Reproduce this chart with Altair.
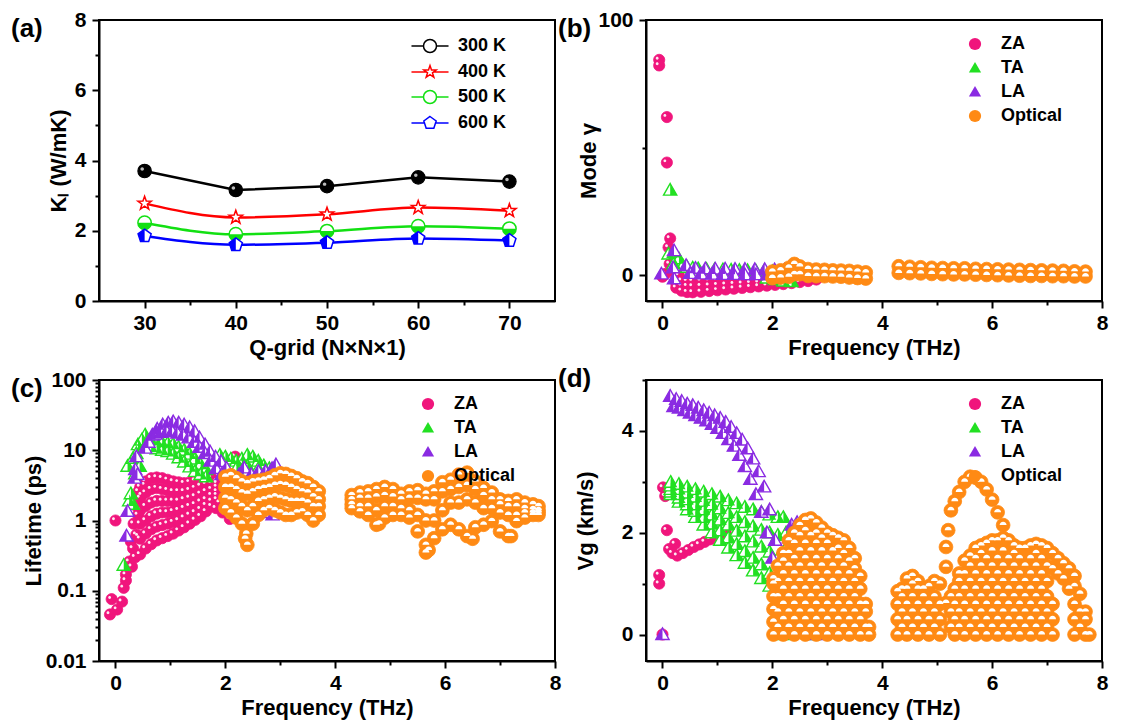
import altair as alt
import pandas as pd

FONT = "Liberation Sans"

# ---------------- (a) thermal conductivity vs q-grid ----------------
Q_GRID = [30, 40, 50, 60, 70]
K_300 = [3.70, 3.16, 3.27, 3.52, 3.40]
K_400 = [2.78, 2.38, 2.47, 2.66, 2.57]
K_500 = [2.23, 1.90, 1.99, 2.13, 2.06]
K_600 = [1.85, 1.60, 1.66, 1.78, 1.72]
A_SERIES = ["300 K", "400 K", "500 K", "600 K"]
A_COLORS = ["#000000", "#ff0000", "#12e012", "#0000ff"]

SERIES = ["ZA", "TA", "LA", "Optical"]
COLORS = {"ZA": "#f0157c", "TA": "#22e022", "LA": "#8a2be2", "Optical": "#ff8a14"}

# ---------------- (b) mode Gruneisen parameter ----------------
B_ZA_F = [-0.06, -0.06, 0.08, 0.08, 0.14, 0.11, 0.13, 0.05, 0.0, 0.2, 0.3]
B_ZA_V = [84.4, 82.2, 62.0, 44.2, 14.5, 11.0, 4.5, 0.6, -0.5, 1.5, 0.0]
B_ZA_GRID = [0.25, 0.35, 0.45, 0.55, 0.7, 0.85, 1.0, 1.15, 1.3, 1.45, 1.6, 1.75, 1.9, 2.05, 2.2, 2.35, 2.5, 2.65, 2.8]
B_ZA_ROW1 = [-4.8, -6.0, -6.5, -6.6, -6.4, -6.1, -5.8, -5.5, -5.2, -4.9, -4.6, -4.3, -4.0, -3.7, -3.4, -3.0, -2.6, -2.2, -1.6]
B_ZA_ROW2 = [-3.0, -4.0, -4.2, -4.3, -4.2, -4.0, -3.8, -3.6, -3.4, -3.2, -3.0, -2.8, -2.6, -2.4, -2.2, -2.0, -1.7, -1.4, -1.0]
B_ZA_ROW3 = [-1.5, -2.0, -2.2, -2.2, -2.1, -2.0, -1.9, -1.8, -1.7, -1.6, -1.5, -1.4, -1.3, -1.2, -1.1, -1.0, -0.9, -0.7, -0.5]
B_TA_F = [0.14, 0.11, 0.21, 0.30, 0.37, 0.20, 0.45, 0.55, 0.65, 0.8, 0.95, 1.1, 1.25, 1.4, 1.55, 1.7, 1.85, 2.0, 2.15, 2.3, 1.9, 2.05, 2.2, 2.35]
B_TA_V = [33.4, 8.4, 9.0, 6.5, 3.9, 4.5, 3.2, 2.9, 2.6, 2.4, 2.3, 2.2, 2.1, 2.0, 1.9, 1.8, 1.7, 1.5, 1.2, 0.8, -1.0, -1.6, -2.2, -2.4]
B_LA_F = [-0.02, 0.21, 0.21, 0.19, 0.43, 0.6, 0.78, 0.96, 1.14, 1.32, 1.5, 1.68, 1.86, 2.04, 2.22, 2.4, 2.58, 2.76, 2.94,
          0.5, 0.7, 0.9, 1.1, 1.3, 1.5, 1.7, 1.9, 2.1]
B_LA_V = [0.6, 9.7, -1.3, 3.0, 3.9, 2.8, 2.6, 2.5, 2.5, 2.4, 2.4, 2.3, 2.3, 2.2, 2.2, 2.1, 2.0, 1.9, 1.8,
          0.8, 0.6, 0.5, 0.4, 0.4, 0.3, 0.3, 0.2, 0.2]
B_OPT_GRID1 = [2.0, 2.15, 2.3, 2.4, 2.5, 2.65, 2.8, 2.95, 3.1, 3.25, 3.4, 3.55, 3.7]
B_OPT_TOP1 = [1.5, 2.0, 3.0, 4.5, 3.5, 2.5, 2.3, 2.2, 2.0, 1.9, 1.8, 1.5, 1.2]
B_OPT_LOW1 = [-1.0, -0.8, -0.5, 0.5, 0.5, -0.2, -0.3, -0.3, -0.4, -0.5, -0.8, -1.0, -1.2]
B_OPT_GRID2 = [4.3, 4.5, 4.7, 4.9, 5.1, 5.3, 5.5, 5.7, 5.9, 6.1, 6.3, 6.5, 6.7, 6.9, 7.1, 7.3, 7.5, 7.7]
B_OPT_TOP2 = [3.6, 3.4, 3.2, 3.0, 2.9, 2.8, 2.8, 2.6, 2.5, 2.4, 2.3, 2.2, 2.1, 2.0, 1.9, 1.8, 1.6, 1.5]
B_OPT_LOW2 = [1.0, 0.9, 0.8, 0.6, 0.5, 0.4, 0.4, 0.3, 0.2, 0.1, 0.0, -0.1, -0.2, -0.2, -0.3, -0.3, -0.4, -0.4]

# ---------------- (c) phonon lifetime ----------------
C_ZA_GRID = [0.45, 0.55, 0.65, 0.75, 0.85, 0.95, 1.05, 1.15, 1.25, 1.35, 1.45, 1.55, 1.65, 1.75, 1.85]
C_ZA_R1 = [0.33, 0.40, 0.46, 0.52, 0.56, 0.60, 0.65, 0.72, 0.80, 0.90, 1.02, 1.15, 1.35, 1.60, 2.00]
C_ZA_R2 = [0.55, 0.65, 0.75, 0.82, 0.86, 0.90, 0.95, 1.00, 1.10, 1.20, 1.30, 1.45, 1.65, 1.90, 2.30]
C_ZA_R3 = [0.90, 1.00, 1.15, 1.25, 1.30, 1.30, 1.35, 1.40, 1.50, 1.60, 1.70, 1.85, 2.00, 2.30, 2.60]
C_ZA_R4 = [1.40, 1.60, 1.80, 1.90, 1.90, 1.90, 1.90, 1.90, 2.00, 2.10, 2.20, 2.40, 2.60, 2.80, 3.00]
C_ZA_R5 = [2.10, 2.50, 2.80, 2.90, 2.80, 2.70, 2.60, 2.60, 2.60, 2.70, 2.90, 3.10, 3.30, 3.40, 3.40]
C_ZA_R6 = [3.00, 3.60, 4.00, 4.10, 4.00, 3.80, 3.60, 3.50, 3.40, 3.50, 3.70, 3.90, 4.00, 4.00, 3.60]
C_ZA_F = [0.0, -0.1, -0.07, 0.03, 0.12, 0.15, 0.19, 0.19, 0.25, 0.28, 0.32, 0.33, 0.36, 0.38, 0.38, 0.41, 0.42,
          0.48, 0.54, 0.30, 0.42, 1.83, 1.90, 1.95, 2.00, 2.08, 2.18]
C_ZA_V = [1.0, 0.046, 0.076, 0.054, 0.07, 0.11, 0.17, 0.14, 0.26, 0.5, 0.4, 0.9, 0.3, 0.63, 1.6, 1.2, 2.6,
          2.3, 3.2, 0.22, 0.6, 1.5, 1.8, 1.3, 1.4, 1.05, 8.1]
C_TA_F = [0.15, 0.25, 0.28, 0.32, 0.22, 0.32, 0.41, 0.44, 0.54, 0.38, 0.48, 0.36]
C_TA_V = [0.23, 1.9, 2.4, 1.7, 5.9, 7.7, 12.0, 5.9, 16.5, 9.0, 14.0, 4.6]
C_TA_ARC_F = [0.65, 0.75, 0.85, 0.95, 1.05, 1.15, 1.25, 1.35, 1.45, 1.55, 1.65]
C_TA_ARC_HI = [14.0, 13.0, 12.8, 12.6, 12.2, 11.0, 10.0, 8.8, 7.5, 6.3, 5.3]
C_TA_ARC_LO = [11.0, 10.5, 10.0, 9.6, 8.8, 7.8, 6.8, 5.8, 5.0, 4.5, 4.2]
C_TA_R_F = [1.9, 2.0, 2.1, 2.2, 2.3, 2.4, 2.5, 2.6, 2.7, 2.8, 2.2, 2.4, 2.6]
C_TA_R_V = [8.5, 8.0, 7.5, 7.0, 7.5, 8.5, 8.0, 7.0, 6.0, 5.5, 5.5, 6.0, 5.5]
C_LA_F = [0.2, 0.22, 0.35, 0.36, 0.38, 0.40, 0.54, 0.60]
C_LA_V = [0.6, 1.35, 4.0, 5.3, 8.1, 4.5, 10.7, 13.0]
C_LA_HI_F = [0.67, 0.76, 0.86, 0.96, 1.05, 1.15, 1.25, 1.35, 1.44, 1.53, 1.63, 1.72, 1.82, 1.92, 2.02]
C_LA_HI_V = [16.5, 20.0, 23.0, 24.5, 25.5, 24.5, 23.0, 21.0, 18.5, 15.0, 12.0, 9.5, 8.0, 6.9, 5.6]
C_LA_LO_F = [0.73, 0.83, 0.93, 1.03, 1.13, 1.23, 1.33, 1.43, 1.53, 1.63, 1.73, 1.83, 1.93]
C_LA_LO_V = [17.0, 18.0, 18.5, 18.5, 17.5, 16.5, 15.0, 13.0, 11.0, 9.0, 7.0, 5.5, 4.5]
C_LA_R_F = [2.15, 2.25, 2.34, 2.47, 2.60, 2.73, 2.85, 2.92, 2.86, 2.70]
C_LA_R_V = [4.0, 4.5, 5.6, 4.5, 5.0, 5.0, 5.5, 6.2, 1.2, 1.3]
C_OPT_GRID1 = [2.0, 2.1, 2.2, 2.3, 2.4, 2.5, 2.6, 2.7, 2.8, 2.9, 3.0, 3.1, 3.2, 3.3, 3.4, 3.5, 3.6, 3.7]
C_OPT_L_R1 = [4.2, 4.4, 4.0, 3.6, 3.4, 3.6, 3.7, 3.8, 4.0, 4.4, 4.7, 4.6, 4.3, 4.0, 3.6, 3.4, 3.0, 2.6]
C_OPT_L_R2 = [3.0, 3.0, 2.8, 2.5, 2.4, 2.6, 2.8, 2.9, 3.0, 3.2, 3.3, 3.2, 3.0, 2.8, 2.6, 2.5, 2.2, 2.0]
C_OPT_L_R3 = [2.1, 2.0, 1.8, 1.6, 1.4, 1.6, 1.9, 2.0, 2.1, 2.2, 2.1, 2.0, 1.9, 1.9, 1.9, 1.8, 1.6, 1.6]
C_OPT_L_R4 = [1.5, 1.3, 1.1, 0.9, 0.45, 0.9, 1.2, 1.4, 1.5, 1.4, 1.3, 1.2, 1.2, 1.3, 1.35, 1.2, 1.0, 1.2]
C_OPT_GRID2 = [4.3, 4.45, 4.6, 4.75, 4.9, 5.05, 5.2, 5.35, 5.5, 5.65, 5.8, 5.95, 6.1, 6.25, 6.4, 6.55, 6.7, 6.85,
               7.0, 7.15, 7.3, 7.45, 7.6, 7.7]
C_OPT_R_R1 = [2.3, 2.5, 2.6, 2.8, 3.0, 2.8, 2.4, 2.6, 2.7, 2.4, 2.6, 3.5, 3.8, 4.5, 4.8, 3.6, 2.9, 2.5, 2.0, 1.9, 2.0, 1.8, 1.7, 1.6]
C_OPT_R_R2 = [2.0, 2.1, 2.1, 2.2, 2.3, 2.2, 2.0, 2.1, 2.1, 2.0, 2.0, 2.6, 2.8, 3.0, 3.2, 2.8, 2.3, 2.0, 1.7, 1.6, 1.6, 1.5, 1.45, 1.4]
C_OPT_R_R3 = [1.7, 1.6, 1.6, 1.4, 1.6, 1.6, 1.5, 1.4, 1.2, 1.0, 1.0, 1.4, 1.8, 1.8, 2.0, 1.8, 1.5, 1.5, 1.3, 1.2, 1.2, 1.3, 1.3, 1.3]
C_OPT_R_R4 = [1.5, 1.35, 1.2, 0.87, 1.1, 1.2, 1.2, 1.1, 0.7, 0.35, 0.56, 0.75, 0.87, 0.75, 0.6, 0.8, 0.87, 0.98, 0.7, 0.6, 0.98, 1.1, 1.2, 1.2]
C_OPT_X_F = [2.38, 2.36, 4.8, 5.65, 5.7, 6.5, 7.2]
C_OPT_X_V = [0.65, 0.55, 0.9, 0.45, 0.38, 0.55, 0.6]

# ---------------- (d) group velocity ----------------
D_ZA_F = [0.01, 0.05, 0.08, -0.06, -0.06, 0.0, 0.12, 0.18, 0.23, 0.27, 0.37, 0.47, 0.57, 0.67, 0.77, 0.87, 0.97,
          1.05, 1.15, 2.18, 2.55, 2.60, 2.66]
D_ZA_V = [2.89, 2.72, 2.05, 1.17, 1.0, 0.0, 1.68, 1.6, 1.78, 1.55, 1.6, 1.66, 1.72, 1.77, 1.82, 1.87, 1.92,
          1.97, 2.0, 0.0, 0.5, 0.2, 0.1]
D_TA_GRID = [0.15, 0.3, 0.45, 0.6, 0.75, 0.9, 1.05, 1.2, 1.35, 1.5, 1.65, 1.8, 1.95, 2.1]
D_TA_R1 = [2.99, 2.95, 2.9, 2.85, 2.8, 2.75, 2.7, 2.63, 2.57, 2.5, 2.45, 2.4, 2.35, 2.3]
D_TA_R2 = [2.92, 2.85, 2.78, 2.7, 2.62, 2.55, 2.47, 2.38, 2.3, 2.2, 2.12, 2.05, 2.0, 1.95]
D_TA_R3 = [2.85, 2.75, 2.65, 2.55, 2.45, 2.35, 2.25, 2.15, 2.03, 1.92, 1.82, 1.72, 1.62, 1.5]
D_TA_R4 = [2.8, 2.68, 2.55, 2.42, 2.3, 2.17, 2.04, 1.9, 1.77, 1.63, 1.5, 1.37, 1.2, 1.0]
D_TA_R5 = [2.75, 2.6, 2.45, 2.3, 2.15, 2.0, 1.85, 1.7, 1.55, 1.4, 1.25, 1.1, 0.95, 0.7]
D_TA_F = [2.2, 2.25, 2.3, 2.2, 2.25, 2.7, 2.75]
D_TA_V = [2.3, 2.0, 1.8, 0.0, 0.3, 0.1, 0.0]
D_LA_A_F = [0.14, 0.25, 0.35, 0.45, 0.55, 0.65, 0.75, 0.85, 0.95, 1.05, 1.15, 1.25, 1.35, 1.45, 1.55, 1.65, 1.75,
            1.85, 1.95, 2.05, 2.15]
D_LA_A_V = [4.68, 4.62, 4.58, 4.53, 4.5, 4.45, 4.4, 4.35, 4.3, 4.25, 4.17, 4.07, 3.95, 3.82, 3.65, 3.45, 3.2,
            2.9, 2.45, 1.85, 1.25]
D_LA_B_F = [0.2, 0.3, 0.4, 0.5, 0.6, 0.7, 0.8, 0.9, 1.0, 1.1, 1.2, 1.3, 1.4, 1.5, 1.6, 1.7, 1.8, 1.9, 2.0, 2.1]
D_LA_B_V = [4.48, 4.45, 4.4, 4.35, 4.3, 4.25, 4.2, 4.13, 4.05, 3.95, 3.83, 3.7, 3.52, 3.3, 3.05, 2.75, 2.4, 2.0, 1.5, 1.0]
D_LA_F = [0.0, 2.3, 2.35, 2.45, 2.55, 2.8, 2.85]
D_LA_V = [0.0, 1.9, 2.15, 2.2, 2.22, 0.0, 0.1]
D_OPT_LEFT = [
    (2.02, [0.0, 0.25, 0.5, 0.75, 1.0, 1.1]),
    (2.10, [0.15, 0.45, 0.75, 1.05, 1.35]),
    (2.20, [0.0, 0.3, 0.6, 0.9, 1.2, 1.45, 1.6]),
    (2.30, [0.15, 0.45, 0.75, 1.05, 1.35, 1.6, 1.85]),
    (2.40, [0.0, 0.3, 0.6, 0.9, 1.2, 1.5, 1.8, 2.0]),
    (2.50, [0.15, 0.45, 0.75, 1.05, 1.35, 1.65, 1.95, 2.15]),
    (2.60, [0.0, 0.3, 0.6, 0.9, 1.2, 1.5, 1.8, 2.05, 2.25]),
    (2.70, [0.15, 0.45, 0.75, 1.05, 1.35, 1.65, 1.95, 2.28]),
    (2.80, [0.0, 0.3, 0.6, 0.9, 1.2, 1.5, 1.8, 2.0, 2.2]),
    (2.90, [0.15, 0.45, 0.75, 1.05, 1.35, 1.65, 1.9, 2.1]),
    (3.00, [0.0, 0.3, 0.6, 0.9, 1.2, 1.5, 1.8, 2.0]),
    (3.10, [0.15, 0.45, 0.75, 1.05, 1.35, 1.65, 1.95]),
    (3.20, [0.0, 0.3, 0.6, 0.9, 1.2, 1.5, 1.7, 1.9]),
    (3.30, [0.15, 0.45, 0.75, 1.05, 1.35, 1.6, 1.85]),
    (3.40, [0.0, 0.3, 0.6, 0.9, 1.2, 1.45, 1.7]),
    (3.50, [0.15, 0.45, 0.75, 1.05, 1.3, 1.5]),
    (3.60, [0.0, 0.3, 0.6, 0.9, 1.15]),
    (3.70, [0.15, 0.45, 0.6]),
    (3.76, [0.0, 0.15]),
]
D_OPT_RIGHT = [
    (4.28, [0.0, 0.3, 0.6, 0.85]),
    (4.36, [0.15, 0.45, 0.75, 0.9]),
    (4.45, [0.0, 0.3, 0.6, 0.9, 1.1]),
    (4.55, [0.15, 0.45, 0.75, 1.0, 1.15]),
    (4.65, [0.0, 0.3, 0.6, 0.9, 1.05]),
    (4.75, [0.15, 0.45, 0.75, 0.9]),
    (4.85, [0.0, 0.3, 0.6, 0.95]),
    (4.95, [0.15, 0.45, 0.75, 1.05]),
    (5.05, [0.0, 0.3, 0.6, 1.0]),
    (5.16, [0.62, 1.33, 1.72]),
    (5.20, [2.05]),
    (5.25, [0.15, 0.45, 0.75, 2.44]),
    (5.32, [0.0, 0.3, 0.6, 0.9, 2.62]),
    (5.40, [0.15, 0.45, 0.75, 1.05, 1.2, 2.8]),
    (5.50, [0.0, 0.3, 0.6, 0.9, 1.2, 1.45, 3.0]),
    (5.60, [0.15, 0.45, 0.75, 1.05, 1.35, 1.55, 3.1]),
    (5.70, [0.0, 0.3, 0.6, 0.9, 1.2, 1.5, 1.7, 3.08]),
    (5.80, [0.15, 0.45, 0.75, 1.05, 1.35, 1.6, 1.75, 3.0]),
    (5.90, [0.0, 0.3, 0.6, 0.9, 1.2, 1.5, 1.8, 2.85]),
    (6.00, [0.15, 0.45, 0.75, 1.05, 1.35, 1.65, 1.85, 2.65]),
    (6.10, [0.0, 0.3, 0.6, 0.9, 1.2, 1.5, 1.85, 2.4]),
    (6.20, [0.15, 0.45, 0.75, 1.05, 1.35, 1.65, 1.9, 2.15]),
    (6.30, [0.0, 0.3, 0.6, 0.9, 1.2, 1.5, 1.85]),
    (6.40, [0.15, 0.45, 0.75, 1.05, 1.35, 1.6, 1.75]),
    (6.50, [0.0, 0.3, 0.6, 0.9, 1.2, 1.5, 1.7]),
    (6.60, [0.15, 0.45, 0.75, 1.05, 1.35, 1.7]),
    (6.70, [0.0, 0.3, 0.6, 0.9, 1.2, 1.5, 1.75]),
    (6.80, [0.15, 0.45, 0.75, 1.05, 1.35, 1.6, 1.78]),
    (6.90, [0.0, 0.3, 0.6, 0.9, 1.2, 1.5, 1.75]),
    (7.00, [0.15, 0.45, 0.75, 1.05, 1.35, 1.7]),
    (7.10, [0.0, 0.3, 0.6, 1.3, 1.6]),
    (7.20, [1.2, 1.5]),
    (7.30, [1.1, 1.4]),
    (7.40, [0.9, 1.3]),
    (7.50, [0.0, 0.3, 0.6, 0.95, 1.15]),
    (7.60, [0.15, 0.45, 0.8]),
    (7.70, [0.0, 0.3, 0.45]),
    (7.77, [0.0]),
]

# ---------------- marker paths (unit square -1..1) ----------------
P_TRI = "M0,-1 L1,0.75 L-1,0.75 Z"
P_TRI_R = "M0,-1 L1,0.75 L0,0.75 Z"
P_TRI_L = "M0,-1 L0,0.75 L-1,0.75 Z"
P_HIGHLIGHT = "M-0.62,-0.3 A0.26,0.26 0 1 1 -0.1,-0.3 A0.26,0.26 0 1 1 -0.62,-0.3 Z"
P_CAP = "M-0.5,0.0 A0.5,0.5 0 0 1 0.5,0.0 Z"
P_STAR = ("M0,-1 L0.235,-0.324 L0.951,-0.309 L0.38,0.124 L0.588,0.809 L0,0.4 L-0.588,0.809 "
          "L-0.38,0.124 L-0.951,-0.309 L-0.235,-0.324 Z")
P_PENT = "M0,-1 L0.951,-0.309 L0.588,0.809 L-0.588,0.809 L-0.951,-0.309 Z"
P_PENT_L = "M0,-1 L0,0.809 L-0.588,0.809 L-0.951,-0.309 Z"
P_HALF_BOTTOM = "M-1,0 A1,1 0 0 0 1,0 Z"
L_CIRC = "M-2.85,0 L-1,0 M1,0 L2.85,0 M-1,0 A1,1 0 1 1 1,0 A1,1 0 1 1 -1,0 Z"
L_STAR = "M-2.85,0 L-0.55,0 M0.55,0 L2.85,0 " + P_STAR
L_PENT = "M-2.85,0 L-0.85,0 M0.85,0 L2.85,0 " + P_PENT


def grid_rows(grid, *rows):
    f, v = [], []
    for row in rows:
        for a, b in zip(grid, row):
            f.append(a)
            v.append(b)
    return f, v


def cols(columns):
    f, v = [], []
    for a, ys in columns:
        for b in ys:
            f.append(a)
            v.append(b)
    return f, v


def join(*pairs):
    f, v = [], []
    for pf, pv in pairs:
        n = min(len(pf), len(pv))
        f += list(pf[:n])
        v += list(pv[:n])
    return f, v


def make_axis(title, values, test, label_pad, **kw):
    opts = dict(
        title=title, values=values, grid=False,
        labelExpr=f"({test}) ? datum.label : ''",
        tickSize={"condition": {"test": test, "value": 7}, "value": 4},
        tickWidth=2, tickColor="black", domainColor="black", domainWidth=2,
        labelFont=FONT, labelFontSize=21, labelFontWeight="bold", labelColor="black",
        titleFont=FONT, titleFontSize=22, titleFontWeight="bold", titleColor="black",
        labelOverlap=False, labelFlush=False, labelPadding=label_pad,
    )
    opts.update(kw)
    return alt.Axis(**opts)


def panel_title(text, dy):
    return alt.TitleParams(text=text, anchor="start", frame="group", orient="top", offset=0,
                           dx=-88, dy=dy, baseline="middle", font=FONT, fontSize=26,
                           fontWeight="bold", color="black")


W, H = 456, 281
X_FREQ_VALUES = [0, 1, 2, 3, 4, 5, 6, 7, 8]
EVEN = "datum.value % 2 === 0"


def freq_x():
    return alt.X("f:Q", scale=alt.Scale(domain=[-0.3, 8.0], nice=False, zero=False),
                 axis=make_axis("Frequency (THz)", X_FREQ_VALUES, EVEN, 4, titlePadding=4))


def scatter_panel(data, y_enc, title, dy):
    x_enc = freq_x()
    layers = []
    for s in SERIES:
        f, v = data[s]
        df = pd.DataFrame({"f": f, "v": v})
        c = COLORS[s]
        base = alt.Chart(df)
        enc = dict(x=x_enc, y=y_enc)
        if s == "ZA":
            layers.append(base.mark_point(shape="circle", size=125, filled=True, fill=c, stroke=c,
                                          strokeWidth=0.8, opacity=1).encode(**enc))
            layers.append(base.mark_point(shape=P_HIGHLIGHT, size=125, filled=True, fill="white",
                                          strokeWidth=0, opacity=0.9).encode(**enc))
        elif s in ("TA", "LA"):
            layers.append(base.mark_point(shape=P_TRI, size=175, filled=True, fill="white", stroke=c,
                                          strokeWidth=1.4, opacity=1).encode(**enc))
            layers.append(base.mark_point(shape=P_TRI_R if s == "TA" else P_TRI_L, size=175, filled=True,
                                          fill=c, strokeWidth=0, opacity=1).encode(**enc))
        else:
            layers.append(base.mark_point(shape="circle", size=190, filled=True, fill=c, stroke=c,
                                          strokeWidth=0.8, opacity=1).encode(**enc))
            layers.append(base.mark_point(shape=P_CAP, size=190, filled=True, fill="white",
                                          strokeWidth=0, opacity=1).encode(**enc))
    leg_df = pd.DataFrame({"f": [data[s][0][0] for s in SERIES],
                           "v": [data[s][1][0] for s in SERIES], "s": SERIES})
    legend = alt.Legend(title=None, orient="none", legendX=320, legendY=15, labelFont=FONT,
                        labelFontSize=18, labelFontWeight="bold", labelColor="black", symbolSize=150,
                        symbolStrokeWidth=0, rowPadding=6, labelOffset=17, padding=0, symbolOpacity=1)
    layers.append(alt.Chart(leg_df).mark_point(size=0, filled=True, strokeWidth=0).encode(
        x=x_enc, y=y_enc,
        color=alt.Color("s:N", scale=alt.Scale(domain=SERIES, range=[COLORS[s] for s in SERIES]), legend=legend),
        shape=alt.Shape("s:N", scale=alt.Scale(domain=SERIES, range=["circle", P_TRI, P_TRI, "circle"]), legend=legend),
    ))
    return alt.layer(*layers).properties(width=W, height=H, title=panel_title(title, dy))


# ---------------- panel (a) ----------------
def panel_a():
    x_enc = alt.X("q:Q", scale=alt.Scale(domain=[25, 75], nice=False, zero=False),
                  axis=make_axis("Q-grid (N×N×1)", [30, 35, 40, 45, 50, 55, 60, 65, 70],
                                 "datum.value % 10 === 0", 4, titlePadding=4))
    y_enc = alt.Y("k:Q", scale=alt.Scale(domain=[0, 8], nice=False, zero=False),
                  axis=make_axis("Kₗ (W/mK)", [0, 1, 2, 3, 4, 5, 6, 7, 8], EVEN, 6, titleX=-29))
    enc = dict(x=x_enc, y=y_enc)
    layers = []
    vals = [K_300, K_400, K_500, K_600]
    for name, col, ks in zip(A_SERIES, A_COLORS, vals):
        df = pd.DataFrame({"q": Q_GRID, "k": ks})
        interp = "linear" if name == "300 K" else "monotone"
        layers.append(alt.Chart(df).mark_line(color=col, strokeWidth=2.5, interpolate=interp).encode(**enc))
    for name, col, ks in zip(A_SERIES, A_COLORS, vals):
        df = pd.DataFrame({"q": Q_GRID, "k": ks})
        ch = alt.Chart(df)
        if name == "300 K":
            layers.append(ch.mark_point(shape="circle", size=180, filled=True, fill=col, stroke=col,
                                        strokeWidth=1.2, opacity=1).encode(**enc))
            layers.append(ch.mark_point(shape=P_HIGHLIGHT, size=180, filled=True, fill="#bbbbbb",
                                        strokeWidth=0, opacity=1).encode(**enc))
        elif name == "400 K":
            layers.append(ch.mark_point(shape=P_STAR, size=200, filled=True, fill="white", stroke=col,
                                        strokeWidth=1.5, opacity=1).encode(**enc))
        elif name == "500 K":
            layers.append(ch.mark_point(shape="circle", size=180, filled=True, fill="white", stroke=col,
                                        strokeWidth=1.5, opacity=1).encode(**enc))
            layers.append(ch.mark_point(shape=P_HALF_BOTTOM, size=180, filled=True, fill=col,
                                        strokeWidth=0, opacity=1).encode(**enc))
        else:
            layers.append(ch.mark_point(shape=P_PENT, size=190, filled=True, fill="white", stroke=col,
                                        strokeWidth=1.5, opacity=1).encode(**enc))
            layers.append(ch.mark_point(shape=P_PENT_L, size=190, filled=True, fill=col,
                                        strokeWidth=0, opacity=1).encode(**enc))
    leg_df = pd.DataFrame({"q": [Q_GRID[0]] * 4, "k": [v[0] for v in vals], "s": A_SERIES})
    legend = alt.Legend(title=None, orient="none", legendX=322, legendY=17, labelFont=FONT,
                        labelFontSize=18, labelFontWeight="bold", labelColor="black", symbolSize=169,
                        rowPadding=6, labelOffset=19, padding=0, symbolOpacity=1)
    layers.append(alt.Chart(leg_df).mark_point(size=0, filled=False, strokeWidth=2.5).encode(
        x=x_enc, y=y_enc,
        color=alt.Color("s:N", scale=alt.Scale(domain=A_SERIES, range=A_COLORS), legend=legend),
        shape=alt.Shape("s:N", scale=alt.Scale(domain=A_SERIES, range=[L_CIRC, L_STAR, L_CIRC, L_PENT]),
                        legend=legend),
    ))
    return alt.layer(*layers).properties(width=W, height=H, title=panel_title("(a)", 46))


# ---------------- panel data assembly ----------------
B_DATA = {
    "ZA": join((B_ZA_F, B_ZA_V), grid_rows(B_ZA_GRID, B_ZA_ROW1, B_ZA_ROW2, B_ZA_ROW3)),
    "TA": join((B_TA_F, B_TA_V)),
    "LA": join((B_LA_F, B_LA_V)),
    "Optical": join(grid_rows(B_OPT_GRID1, B_OPT_LOW1, B_OPT_TOP1), grid_rows(B_OPT_GRID2, B_OPT_LOW2, B_OPT_TOP2)),
}
C_DATA = {
    "ZA": join((C_ZA_F, C_ZA_V), grid_rows(C_ZA_GRID, C_ZA_R1, C_ZA_R2, C_ZA_R3, C_ZA_R4, C_ZA_R5, C_ZA_R6)),
    "TA": join((C_TA_F, C_TA_V), grid_rows(C_TA_ARC_F, C_TA_ARC_HI, C_TA_ARC_LO), (C_TA_R_F, C_TA_R_V)),
    "LA": join((C_LA_F, C_LA_V), (C_LA_HI_F, C_LA_HI_V), (C_LA_LO_F, C_LA_LO_V), (C_LA_R_F, C_LA_R_V)),
    "Optical": join(grid_rows(C_OPT_GRID1, C_OPT_L_R4, C_OPT_L_R3, C_OPT_L_R2, C_OPT_L_R1),
                    grid_rows(C_OPT_GRID2, C_OPT_R_R4, C_OPT_R_R3, C_OPT_R_R2, C_OPT_R_R1),
                    (C_OPT_X_F, C_OPT_X_V)),
}
D_DATA = {
    "ZA": join((D_ZA_F, D_ZA_V)),
    "TA": join(grid_rows(D_TA_GRID, D_TA_R5, D_TA_R4, D_TA_R3, D_TA_R2, D_TA_R1), (D_TA_F, D_TA_V)),
    "LA": join((D_LA_B_F, D_LA_B_V), (D_LA_A_F, D_LA_A_V), (D_LA_F, D_LA_V)),
    "Optical": join(cols(D_OPT_LEFT), cols(D_OPT_RIGHT)),
}

y_b = alt.Y("v:Q", scale=alt.Scale(domain=[-10, 100], nice=False, zero=False),
            axis=make_axis("Mode γ", [0, 50, 100], "datum.value % 100 === 0", 6, titleX=-46))
LOG_TICKS = [m * 10.0 ** e for e in (-2, -1, 0, 1) for m in range(1, 10)] + [100.0]
DECADE = "abs(log(datum.value) / LN10 - round(log(datum.value) / LN10)) < 0.001"
y_c = alt.Y("v:Q", scale=alt.Scale(type="log", domain=[0.01, 100], nice=False),
            axis=make_axis("Lifetime (ps)", LOG_TICKS, DECADE, 6, titleX=-54, format=".2~f"))
y_d = alt.Y("v:Q", scale=alt.Scale(domain=[-0.52, 5.0], nice=False, zero=False),
            axis=make_axis("Vg (km/s)", [0, 1, 2, 3, 4, 5], EVEN, 6, titleX=-49))

pa = panel_a()
pb = scatter_panel(B_DATA, y_b, "(b)", 46)
pc = scatter_panel(C_DATA, y_c, "(c)", 46)
pd_ = scatter_panel(D_DATA, y_d, "(d)", 36)

chart = (
    alt.concat(pa, pb, pc, pd_, columns=2, spacing={"row": 79, "column": 91}, bounds="flush")
    .resolve_scale(color="independent", shape="independent", x="independent", y="independent")
    .resolve_legend(color="independent", shape="independent")
    .properties(padding={"left": 2, "top": 0, "right": 4, "bottom": 2}, background="white")
    .configure_view(stroke="black", strokeWidth=2)
)

chart.save("out.html", embed_options={"renderer": "svg", "actions": False})
